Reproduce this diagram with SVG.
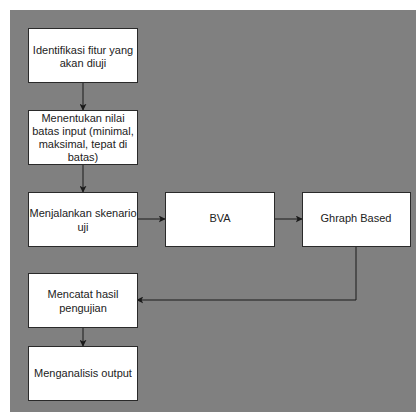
<svg xmlns="http://www.w3.org/2000/svg" width="416" height="413" viewBox="0 0 416 413">
<defs>
<marker id="arr" viewBox="0 0 10 10" refX="9" refY="5" markerWidth="7" markerHeight="7" markerUnits="userSpaceOnUse" orient="auto">
<path d="M0,0 L10,5 L0,10 L2.5,5 Z" fill="#1a1a1a"/>
</marker>
<style>
.box{fill:#ffffff;stroke:#2a2a2a;stroke-width:1}
.t{font-family:"Liberation Sans",Arial,sans-serif;font-size:11px;fill:#222;text-anchor:middle}
.c{fill:none;stroke:#1a1a1a;stroke-width:1;marker-end:url(#arr)}
</style>
</defs>
<rect x="0" y="0" width="416" height="413" fill="#ffffff"/>
<rect x="10" y="10" width="406" height="402" fill="#808080"/>
<g id="connectors">
<path class="c" d="M83,82 V110"/>
<path class="c" d="M83,164 V192"/>
<path class="c" d="M137,219 H165"/>
<path class="c" d="M274,219 H302"/>
<path class="c" d="M356,246 V300 H137"/>
<path class="c" d="M83,327 V346"/>
</g>
<g id="n1"><rect class="box" x="28.5" y="28.5" width="109" height="54"/>
<text class="t" x="83" y="54">Identifikasi fitur yang</text><text class="t" x="83" y="67">akan diuji</text></g>
<g id="n2"><rect class="box" x="28.5" y="110.5" width="109" height="54"/>
<text class="t" x="83" y="122">Menentukan nilai</text><text class="t" x="83" y="135">batas input (minimal,</text><text class="t" x="83" y="148">maksimal, tepat di</text><text class="t" x="83" y="161">batas)</text></g>
<g id="n3"><rect class="box" x="28.5" y="192.5" width="109" height="54"/>
<text class="t" x="83" y="217">Menjalankan skenario</text><text class="t" x="83" y="231">uji</text></g>
<g id="n4"><rect class="box" x="165.5" y="192.5" width="109" height="54"/>
<text class="t" x="220" y="222">BVA</text></g>
<g id="n5"><rect class="box" x="302.5" y="192.5" width="108" height="54"/>
<text class="t" x="356" y="222">Ghraph Based</text></g>
<g id="n6"><rect class="box" x="28.5" y="273.5" width="109" height="54"/>
<text class="t" x="83" y="298">Mencatat hasil</text><text class="t" x="83" y="312">pengujian</text></g>
<g id="n7"><rect class="box" x="28.5" y="346.5" width="109" height="54"/>
<text class="t" x="83" y="377">Menganalisis output</text></g>
</svg>
